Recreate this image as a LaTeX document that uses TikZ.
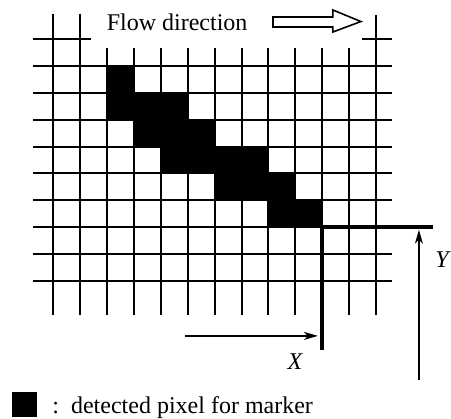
\documentclass[tikz,border=0pt]{standalone}
\usepackage{fontspec}
\setmainfont{Liberation Serif}
\usetikzlibrary{arrows.meta, positioning}

\tikzset{
  gridline/.style={line width=1pt},
  boldline/.style={line width=2pt},
  dirarrow/.style={-{Stealth[length=7pt, width=4pt, inset=2pt]}, line width=0.6pt},
  lbl/.style={font=\fontsize{12}{14}\selectfont, inner sep=0pt}
}

\begin{document}
\begin{tikzpicture}[x=13.435pt, y=-13.4pt]
    \useasboundingbox (-1.991,-1.474) rectangle (14.794,14.160);
    % detected pixels
    \foreach \c/\r in {2/1, 2/2, 3/2, 4/2, 3/3, 4/3, 5/3, 4/4, 5/4, 6/4, 7/4, 6/5, 7/5, 8/5, 8/6, 9/6}
        \fill (\c,\r) rectangle ++(1,1);
    % grid
    \foreach \i in {0,1}
        \draw[gridline] (\i,-0.97) -- (\i,10.28);
    \foreach \i in {2,...,11}
        \draw[gridline] (\i,0.32) -- (\i,10.28);
    \draw[gridline] (12,-0.91) -- (12,10.28);
    \foreach \j in {1,...,9}
        \draw[gridline] (-0.76,\j) -- (12.58,\j);
    \draw[gridline] (-0.76,0) -- (1.384,0);
    \draw[gridline] (11.49,0) -- (12.58,0);
    % marker corner
    \draw[boldline] (10,11.59) -- (10,7) -- (14.13,7);
    % flow direction
    \node[lbl] (flow) at (4.6,-0.66) {Flow direction};
    \draw[line width=0.8pt, fill=white] (8.17,-0.84) -- (10.40,-0.84) -- (10.40,-1.10) -- (11.44,-0.67)
        -- (10.40,-0.28) -- (10.40,-0.466) -- (8.17,-0.466) -- cycle;
    % X and Y
    \coordinate (xs) at (4.89,11.06);
    \coordinate (xe) at (9.84,11.06);
    \draw[dirarrow] (xs) -- (xe);
    \node[lbl, font=\fontsize{12}{14}\selectfont\itshape] (xlab) at (8.99,12.03) {X};
    \coordinate (ys) at (13.6,12.7);
    \coordinate (ye) at (13.6,7.1);
    \draw[dirarrow] (ys) -- (ye);
    \node[lbl, font=\fontsize{12}{14}\selectfont\itshape] (ylab) at (14.46,8.23) {Y};
    % legend
    \node[fill=black, minimum width=12.5pt, minimum height=12.5pt, inner sep=0pt] (mark) at (-1.08,13.62) {};
    \node[lbl, anchor=base west] (legend) at (-0.056,13.94) {:\enspace detected pixel for marker};
\end{tikzpicture}
\end{document}
